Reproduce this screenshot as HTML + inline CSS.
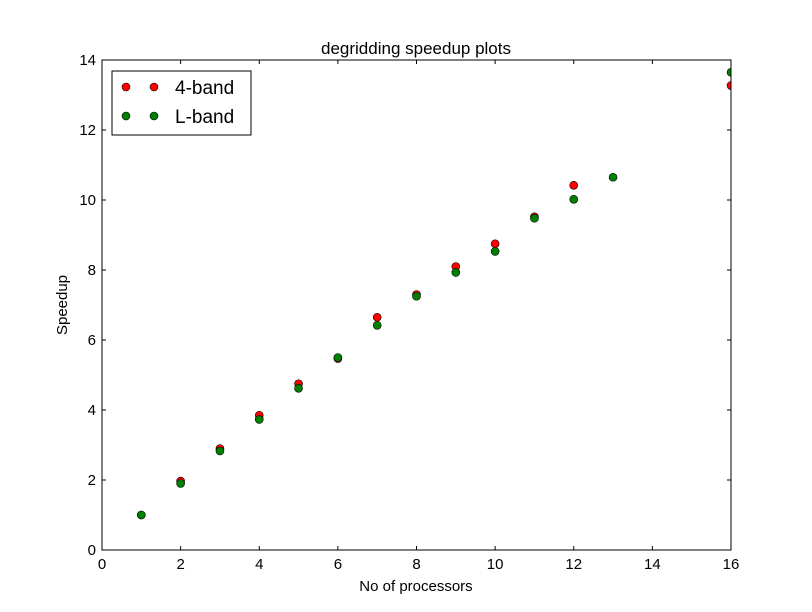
<!DOCTYPE html>
<html><head><meta charset="utf-8"><style>body{margin:0;background:#fff}svg{display:block;font-family:"Liberation Sans","DejaVu Sans",sans-serif}</style></head>
<body>
<svg width="812" height="612" xmlns="http://www.w3.org/2000/svg">
<rect width="812" height="612" fill="#fff"/>
<defs><clipPath id="cp"><rect x="102" y="60" width="629" height="490"/></clipPath></defs>
<text x="416" y="54" text-anchor="middle" font-size="17">degridding speedup plots</text>
<g id="axes"></g>
<g id="marks" clip-path="url(#cp)"></g>
<rect x="102" y="60" width="629" height="490" fill="none" stroke="#000" stroke-width="1"/>
<text x="416" y="591" text-anchor="middle" font-size="15">No of processors</text>
<text x="67" y="305" text-anchor="middle" font-size="15" transform="rotate(-90 67 305)">Speedup</text>
<g>
<rect x="112" y="71" width="139" height="64" fill="#fff" stroke="#000"/>
<g><circle cx="126" cy="87" r="4" fill="#ff0000" stroke="#000" stroke-width="0.6"/><circle cx="154" cy="87" r="4" fill="#ff0000" stroke="#000" stroke-width="0.6"/><text x="175" y="94" font-size="19">4-band</text></g>
<g><circle cx="126" cy="116" r="4" fill="#008000" stroke="#000" stroke-width="0.6"/><circle cx="154" cy="116" r="4" fill="#008000" stroke="#000" stroke-width="0.6"/><text x="175" y="123" font-size="19">L-band</text></g>
</g>
</svg>
<script>
const xTicks=[0,2,4,6,8,10,12,14,16];
const yTicks=[0,2,4,6,8,10,12,14];
const bandAX=[1,2,3,4,5,6,7,8,9,10,11,12,16];
const bandAY=[1.0,1.97,2.9,3.85,4.75,5.47,6.65,7.3,8.1,8.75,9.52,10.42,13.27];
const bandLX=[1,2,3,4,5,6,7,8,9,10,11,12,13,16];
const bandLY=[1.0,1.9,2.83,3.73,4.62,5.5,6.42,7.25,7.93,8.53,9.48,10.02,10.65,13.65];
const NS="http://www.w3.org/2000/svg";
const X=v=>102+v*629/16, Y=v=>550-v*490/14;
const ax=document.getElementById('axes'), mk=document.getElementById('marks');
function mkEl(t,a){const e=document.createElementNS(NS,t);for(const k in a)e.setAttribute(k,a[k]);return e;}
xTicks.forEach(t=>{
 const g=mkEl('g',{});
 
 
 g.appendChild(mkEl('line',{x1:X(t),x2:X(t),y1:550,y2:546,stroke:'#000'}));
 g.appendChild(mkEl('line',{x1:X(t),x2:X(t),y1:60,y2:64,stroke:'#000'}));
 const tx=mkEl('text',{x:X(t),y:569,'text-anchor':'middle','font-size':15});tx.textContent=t;g.appendChild(tx);
 ax.appendChild(g);
});
yTicks.forEach(t=>{
 const g=mkEl('g',{});
 
 
 g.appendChild(mkEl('line',{x1:102,x2:106,y1:Y(t),y2:Y(t),stroke:'#000'}));
 g.appendChild(mkEl('line',{x1:731,x2:727,y1:Y(t),y2:Y(t),stroke:'#000'}));
 const tx=mkEl('text',{x:96,y:Y(t)+5,'text-anchor':'end','font-size':15});tx.textContent=t;g.appendChild(tx);
 ax.appendChild(g);
});
function series(xs,ys,col,name){
 xs.forEach((x,i)=>{
  const c=mkEl('circle',{cx:X(x),cy:Y(ys[i]),r:4,fill:col,stroke:'#000','stroke-width':0.6});
  
  
  mk.appendChild(c);
 });
}
series(bandAX,bandAY,'#ff0000','point-4-band');
series(bandLX,bandLY,'#008000','point-l-band');
</script>
</body></html>
